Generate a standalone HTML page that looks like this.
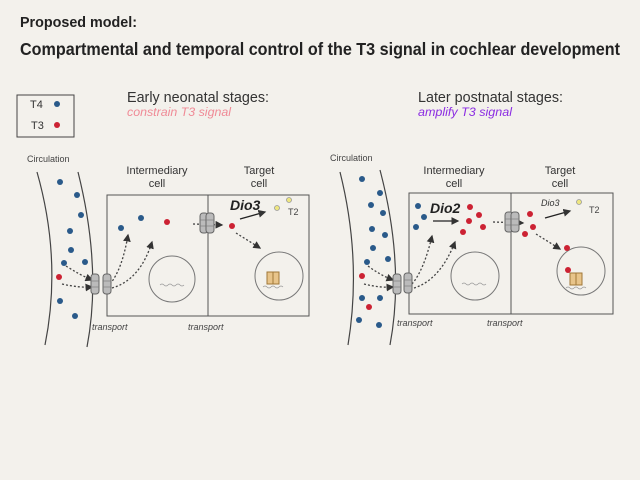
<!DOCTYPE html>
<html><head><meta charset="utf-8"><style>
html,body{margin:0;padding:0;background:#f3f1ec;}
svg{display:block;font-family:"Liberation Sans",sans-serif;}
</style></head><body>
<svg width="640" height="480" viewBox="0 0 640 480" xmlns="http://www.w3.org/2000/svg">
<defs>
<marker id="a" markerWidth="6" markerHeight="6" refX="5" refY="3" orient="auto"><path d="M0,0 L6,3 L0,6 z" fill="#333"/></marker>
<g id="tr"><rect x="-4" y="-10" width="8" height="20" rx="3" fill="#bbb" stroke="#666" stroke-width="1"/><line x1="-4" y1="-3" x2="4" y2="-3" stroke="#777" stroke-width="0.6"/><line x1="-4" y1="3" x2="4" y2="3" stroke="#777" stroke-width="0.6"/></g>
<g id="rc"><rect x="-6" y="-7" width="12" height="12" fill="#e8c48a" stroke="#a07838" stroke-width="1"/><line x1="0" y1="-7" x2="0" y2="5" stroke="#a07838"/><path d="M-10,8 q2,-2 4,0 t4,0 t4,0 t4,0 t4,0" fill="none" stroke="#999" stroke-width="0.7"/></g>
</defs>
<rect width="640" height="480" fill="#f3f1ec"/>
<text x="20" y="27" font-size="14.5" font-weight="bold" fill="#222" textLength="117" lengthAdjust="spacingAndGlyphs">Proposed model:</text>
<text x="20" y="55" font-size="17.5" font-weight="bold" fill="#222" textLength="600" lengthAdjust="spacingAndGlyphs">Compartmental and temporal control of the T3 signal in cochlear development</text>
<rect x="17" y="95" width="57" height="42" fill="none" stroke="#444"/>
<text x="30" y="108" font-size="11" fill="#333">T4</text><circle cx="57" cy="104" r="3" fill="#2a5a8a"/>
<text x="31" y="129" font-size="11" fill="#333">T3</text><circle cx="57" cy="125" r="3" fill="#cc2233"/>
<text x="127" y="102" font-size="14.5" fill="#333" textLength="142" lengthAdjust="spacingAndGlyphs">Early neonatal stages:</text>
<text x="127" y="116" font-size="11.5" font-style="italic" fill="#f08a96" textLength="104" lengthAdjust="spacingAndGlyphs">constrain T3 signal</text>
<text x="418" y="102" font-size="14.5" fill="#333" textLength="145" lengthAdjust="spacingAndGlyphs">Later postnatal stages:</text>
<text x="418" y="116" font-size="11.5" font-style="italic" fill="#8a2be2" textLength="94" lengthAdjust="spacingAndGlyphs">amplify T3 signal</text>

<!-- LEFT PANEL -->
<g stroke="#444" stroke-width="1.2" fill="none">
<path d="M37,172 Q62,260 45,345"/><path d="M78,172 Q102,268 87,347"/>
</g>
<text x="27" y="162" font-size="9" fill="#444">Circulation</text>
<rect x="107" y="195" width="202" height="121" fill="none" stroke="#555"/>
<line x1="208" y1="195" x2="208" y2="316" stroke="#555"/>
<text font-size="11" fill="#333" text-anchor="middle"><tspan x="157" y="174">Intermediary</tspan><tspan x="157" y="187">cell</tspan></text>
<text font-size="11" fill="#333" text-anchor="middle"><tspan x="259" y="174">Target</tspan><tspan x="259" y="187">cell</tspan></text>
<circle cx="172" cy="279" r="23" fill="none" stroke="#777"/>
<path d="M160,285 q2,-2 4,0 t4,0 t4,0 t4,0 t4,0 t4,0" fill="none" stroke="#999" stroke-width="0.7"/>
<circle cx="279" cy="276" r="24" fill="none" stroke="#777"/>
<use href="#rc" x="273" y="279"/>
<g fill="#2a5a8a">
<circle cx="60" cy="182" r="3"/><circle cx="77" cy="195" r="3"/><circle cx="81" cy="215" r="3"/><circle cx="70" cy="231" r="3"/><circle cx="71" cy="250" r="3"/><circle cx="85" cy="262" r="3"/><circle cx="64" cy="263" r="3"/><circle cx="60" cy="301" r="3"/><circle cx="75" cy="316" r="3"/><circle cx="121" cy="228" r="3"/><circle cx="141" cy="218" r="3"/>
</g>
<g fill="#cc2233"><circle cx="59" cy="277" r="3"/><circle cx="167" cy="222" r="3"/><circle cx="232" cy="226" r="3"/></g>
<g fill="#eee680" stroke="#999" stroke-width="0.8"><circle cx="277" cy="208" r="2.5"/><circle cx="289" cy="200" r="2.5"/></g>
<text x="288" y="215" font-size="9" fill="#444">T2</text>
<text x="230" y="210" font-size="14" font-weight="bold" font-style="italic" fill="#222">Dio3</text>
<line x1="240" y1="219" x2="265" y2="212" stroke="#222" stroke-width="1.3" marker-end="url(#a)"/>
<g stroke="#444" stroke-width="1.3" stroke-dasharray="2,2" fill="none" marker-end="url(#a)">
<path d="M66,266 Q80,275 92,280"/><path d="M62,284 Q80,288 92,287"/>
<path d="M110,284 Q122,270 128,235"/><path d="M112,288 Q140,280 152,242"/>
<path d="M193,224 L222,225"/><path d="M236,233 L260,248"/>
</g>
<use href="#tr" x="95" y="284"/><use href="#tr" x="107" y="284"/>
<use href="#tr" x="204" y="223"/><use href="#tr" x="210" y="223"/>
<text x="92" y="330" font-size="9" font-style="italic" fill="#444">transport</text>
<text x="188" y="330" font-size="9" font-style="italic" fill="#444">transport</text>

<!-- RIGHT PANEL -->
<g stroke="#444" stroke-width="1.2" fill="none">
<path d="M340,172 Q362,260 348,345"/><path d="M380,170 Q405,265 390,345"/>
</g>
<text x="330" y="161" font-size="9" fill="#444">Circulation</text>
<rect x="409" y="193" width="204" height="121" fill="none" stroke="#555"/>
<line x1="511" y1="193" x2="511" y2="314" stroke="#555"/>
<text font-size="11" fill="#333" text-anchor="middle"><tspan x="454" y="174">Intermediary</tspan><tspan x="454" y="187">cell</tspan></text>
<text font-size="11" fill="#333" text-anchor="middle"><tspan x="560" y="174">Target</tspan><tspan x="560" y="187">cell</tspan></text>
<circle cx="475" cy="276" r="24" fill="none" stroke="#777"/>
<path d="M462,284 q2,-2 4,0 t4,0 t4,0 t4,0 t4,0 t4,0" fill="none" stroke="#999" stroke-width="0.7"/>
<circle cx="581" cy="271" r="24" fill="none" stroke="#777"/>
<use href="#rc" x="576" y="280"/>
<g fill="#2a5a8a">
<circle cx="362" cy="179" r="3"/><circle cx="380" cy="193" r="3"/><circle cx="371" cy="205" r="3"/><circle cx="383" cy="213" r="3"/><circle cx="372" cy="229" r="3"/><circle cx="385" cy="235" r="3"/><circle cx="373" cy="248" r="3"/><circle cx="388" cy="259" r="3"/><circle cx="367" cy="262" r="3"/><circle cx="362" cy="298" r="3"/><circle cx="380" cy="298" r="3"/><circle cx="359" cy="320" r="3"/><circle cx="379" cy="325" r="3"/><circle cx="418" cy="206" r="3"/><circle cx="424" cy="217" r="3"/><circle cx="416" cy="227" r="3"/>
</g>
<g fill="#cc2233"><circle cx="362" cy="276" r="3"/><circle cx="369" cy="307" r="3"/><circle cx="470" cy="207" r="3"/><circle cx="479" cy="215" r="3"/><circle cx="469" cy="221" r="3"/><circle cx="483" cy="227" r="3"/><circle cx="463" cy="232" r="3"/><circle cx="530" cy="214" r="3"/><circle cx="533" cy="227" r="3"/><circle cx="525" cy="234" r="3"/><circle cx="567" cy="248" r="3"/><circle cx="568" cy="270" r="3"/></g>
<circle cx="579" cy="202" r="2.5" fill="#eee680" stroke="#999" stroke-width="0.8"/>
<text x="589" y="213" font-size="9" fill="#444">T2</text>
<text x="430" y="213" font-size="14" font-weight="bold" font-style="italic" fill="#222">Dio2</text>
<line x1="433" y1="221" x2="458" y2="221" stroke="#222" stroke-width="1.3" marker-end="url(#a)"/>
<text x="541" y="206" font-size="9" font-style="italic" fill="#333">Dio3</text>
<line x1="545" y1="218" x2="570" y2="211" stroke="#222" stroke-width="1.3" marker-end="url(#a)"/>
<g stroke="#444" stroke-width="1.3" stroke-dasharray="2,2" fill="none" marker-end="url(#a)">
<path d="M368,266 Q380,275 393,280"/><path d="M364,284 Q380,288 393,287"/>
<path d="M412,284 Q424,270 432,236"/><path d="M414,288 Q440,280 455,242"/>
<path d="M493,222 L523,223"/><path d="M536,234 L560,249"/>
</g>
<use href="#tr" x="397" y="284"/><use href="#tr" x="408" y="283"/>
<use href="#tr" x="509" y="222"/><use href="#tr" x="515" y="222"/>
<text x="397" y="326" font-size="9" font-style="italic" fill="#444">transport</text>
<text x="487" y="326" font-size="9" font-style="italic" fill="#444">transport</text>
</svg>
</body></html>
